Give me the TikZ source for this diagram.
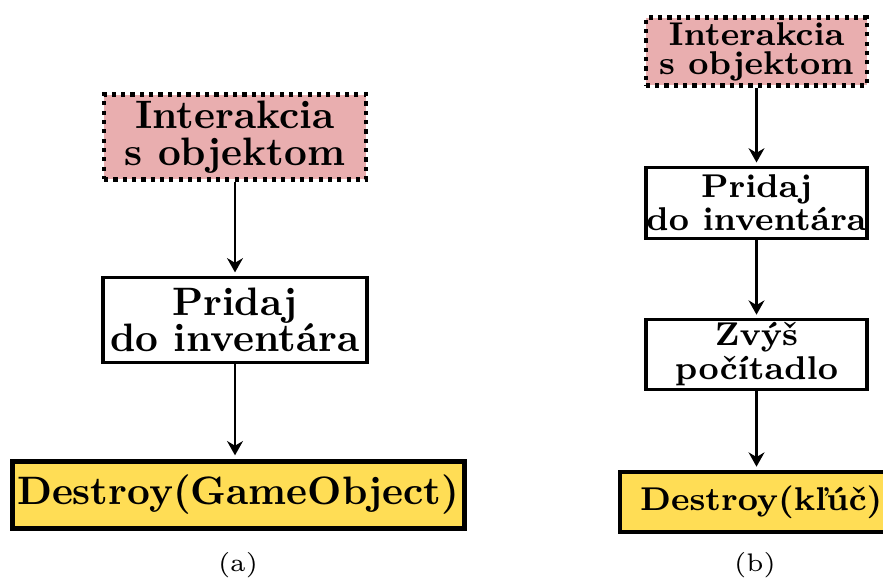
\documentclass[tikz,border=0pt]{standalone}
\usepackage{tikz}
\usetikzlibrary{arrows.meta, positioning}
\definecolor{interpink}{RGB}{233, 174, 175}
\definecolor{destroyyellow}{RGB}{255, 221, 85}

\begin{document}
\begin{tikzpicture}[
    x=0.252pt, y=-0.252pt,
    big/.style={font=\fontsize{10}{9.2}\selectfont\bfseries},
    small/.style={font=\fontsize{8.3}{7.3}\selectfont\bfseries},
    box/.style={rectangle, draw=black, line width=0.8pt, fill=white,
        align=center, inner sep=0pt},
    trigger/.style={box, fill=interpink, line width=1.05pt, dash pattern=on 1.05pt off 1.3pt},
    final/.style={box, fill=destroyyellow},
    arrow/.style={line width=0.55pt, -{Stealth[length=3.6pt, width=4pt]}, shorten >=0.8pt},
    caption/.style={font=\fontsize{6.4}{7}\selectfont}
]
    \useasboundingbox (0,0) rectangle (883,579);

    % (a) pick up an object
    \node[trigger, big, minimum width=66pt, minimum height=21.4pt] (intera) at (235,137) {Interakcia\\s objektom};
    \node[box, big, minimum width=66.5pt, minimum height=21.4pt, below=23.7pt of intera] (pridaja) {Pridaj\\do inventára};
    \node[final, big, line width=1.3pt, minimum width=113.9pt, minimum height=16.9pt,
        below=23.9pt of pridaja, xshift=0.8pt] (destroya) {Destroy(GameObject)};
    \node[caption] (capa) at (238,565) {(a)};

    % (b) pick up a key
    \node[trigger, small, minimum width=55.8pt, minimum height=17.1pt] (interb) at (756.5,51.5) {Interakcia\\s objektom};
    \node[box, small, minimum width=55.7pt, minimum height=17.9pt, below=19.7pt of interb] (pridajb) {Pridaj\\do inventára};
    \node[box, small, minimum width=55.7pt, minimum height=17.6pt, below=19.65pt of pridajb] (zvysb) {Zvýš\\počítadlo};
    \node[final, small, line width=1pt, minimum width=71pt, minimum height=15.1pt,
        below=19.9pt of zvysb, xshift=1.2pt] (destroyb) {Destroy(kľúč)};
    \node[caption] (capb) at (755,565) {(b)};

    % Arrows
    \draw[arrow] (intera) -- (pridaja);
    \draw[arrow] (pridaja) -- (destroya.north -| pridaja);
    \draw[arrow] (interb) -- (pridajb);
    \draw[arrow] (pridajb) -- (zvysb);
    \draw[arrow] (zvysb) -- (destroyb.north -| zvysb);
\end{tikzpicture}
\end{document}
